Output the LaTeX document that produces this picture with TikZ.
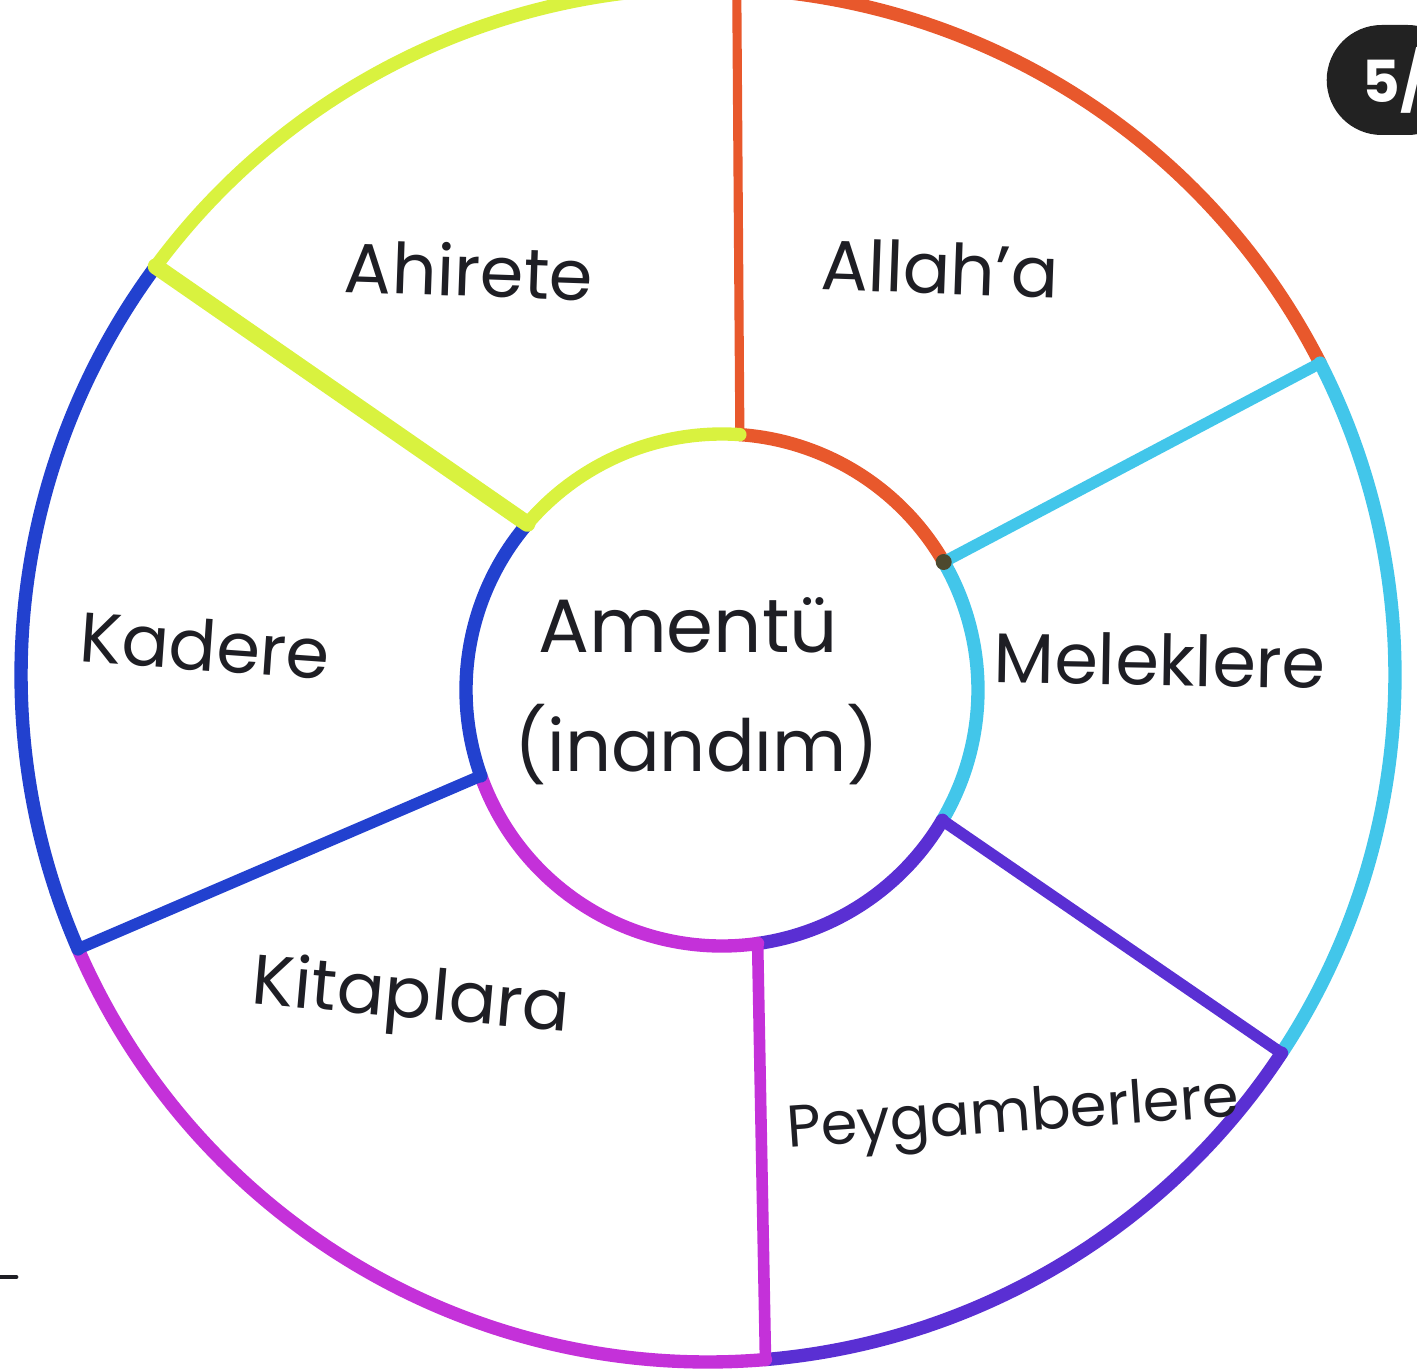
\documentclass[tikz,border=0pt]{standalone}
\usepackage{fontspec}
\setmainfont{Poppins}
\definecolor{amberred}{HTML}{E8582C}
\definecolor{limeyellow}{HTML}{D9F23F}
\definecolor{skycyan}{HTML}{42C6EA}
\definecolor{indigoviolet}{HTML}{5A2FD3}
\definecolor{orchidpink}{HTML}{C431D9}
\definecolor{royalblue}{HTML}{2241CF}
\definecolor{badgegray}{HTML}{222222}
\definecolor{inkgray}{HTML}{1E1E24}

\begin{document}
\begin{tikzpicture}[line cap=round, line join=round, ring/.style={line width=3.8pt}, spoke/.style={line width=3.3pt}, word/.style={font=\fontsize{20}{24}\selectfont, text=inkgray, inner sep=0pt}]
\useasboundingbox (0,0) rectangle (14.17,13.70);
\clip (0,0) rectangle (14.17,13.70);

\coordinate (O) at (7.08, 6.95);
\coordinate (I) at (7.22, 6.80);

% Outer ends of the spokes
\coordinate (o1) at ([shift={(87.6:6.87)}]O);
\coordinate (o2) at ([shift={(27:6.87)}]O);
\coordinate (o3) at ([shift={(-33.4:6.87)}]O);
\coordinate (o4) at ([shift={(-85.2:6.87)}]O);
\coordinate (o5) at ([shift={(-156.5:6.87)}]O);
\coordinate (o6) at ([shift={(143.5:6.87)}]O);

% Inner ends of the spokes
\coordinate (i1) at ([shift={(86:2.56)}]I);
\coordinate (i2) at ([shift={(30:2.56)}]I);
\coordinate (i3) at ([shift={(-30.6:2.56)}]I);
\coordinate (i4) at ([shift={(-82:2.56)}]I);
\coordinate (i5) at ([shift={(-160.4:2.56)}]I);
\coordinate (i6) at ([shift={(139.5:2.56)}]I);

% Allah'a sector
\draw[ring, amberred] (o1) arc[start angle=87.6, end angle=27, radius=6.87];
\draw[spoke, amberred, line width=2.6pt] (i1) -- (o1);
\draw[ring, amberred] (i1) arc[start angle=86, end angle=30, radius=2.56];

% Meleklere sector
\draw[ring, skycyan] (o2) arc[start angle=27, end angle=-33.4, radius=6.87];
\draw[spoke, skycyan] (i2) -- (o2);
\draw[ring, skycyan] (i2) arc[start angle=30, end angle=-30.6, radius=2.56];
\fill[black!60!olive] (i2) circle (0.08);

% Peygamberlere sector
\draw[ring, indigoviolet] (o3) arc[start angle=-33.4, end angle=-85.2, radius=6.87];
\draw[spoke, indigoviolet] (i3) -- (o3);
\draw[ring, indigoviolet] (i3) arc[start angle=-30.6, end angle=-82, radius=2.56];

% Kitaplara sector
\draw[ring, orchidpink] (o4) arc[start angle=-85.2, end angle=-156.5, radius=6.87];
\draw[spoke, orchidpink] (i4) -- (o4);
\draw[ring, orchidpink] (i4) arc[start angle=-82, end angle=-160.4, radius=2.56];

% Kadere sector
\draw[ring, royalblue] (o5) arc[start angle=-156.5, end angle=-216.5, radius=6.87];
\draw[spoke, royalblue] (i5) -- (o5);
\draw[ring, royalblue] (i5) arc[start angle=-160.4, end angle=-220.5, radius=2.56];

% Ahirete sector
\draw[ring, limeyellow] (o6) arc[start angle=143.5, end angle=87.6, radius=6.87];
\draw[spoke, limeyellow, line width=4.6pt] (i6) -- (o6);
\draw[ring, limeyellow] (i6) arc[start angle=139.5, end angle=86, radius=2.56];

% Labels
\node[word, rotate=-2] (allah) at (9.40, 11.02) {Allah'a};
\node[word, rotate=-2] (ahiret) at (4.69, 11.00) {Ahirete};
\node[word, rotate=-1] (melek) at (11.60, 7.10) {Meleklere};
\node[word, rotate=-4] (kader) at (2.05, 7.25) {Kadere};
\node[word, rotate=-5] (kitap) at (4.11, 3.70) {Kitaplara};
\node[word, rotate=4, font=\fontsize{16.8}{20}\selectfont] (peygamber) at (10.13, 2.52) {Peygamberlere};
\node[word, font=\fontsize{21.5}{26}\selectfont] (amentu) at (6.88, 7.45) {Amentü};
\node[word, font=\fontsize{20.5}{26}\selectfont] (inandim) at (6.97, 6.25) {(inandım)};

% Page badge
\node[fill=badgegray, rounded corners=0.55cm, minimum height=1.1cm, inner xsep=0.36cm, anchor=west, text=white, font=\fontsize{16.5}{20}\selectfont\bfseries] (page) at (13.26, 12.90) {5/\hspace{0.5cm}};

\draw[line width=1.4pt, inkgray] (0,0.93) -- (0.16,0.93);
\end{tikzpicture}
\end{document}
